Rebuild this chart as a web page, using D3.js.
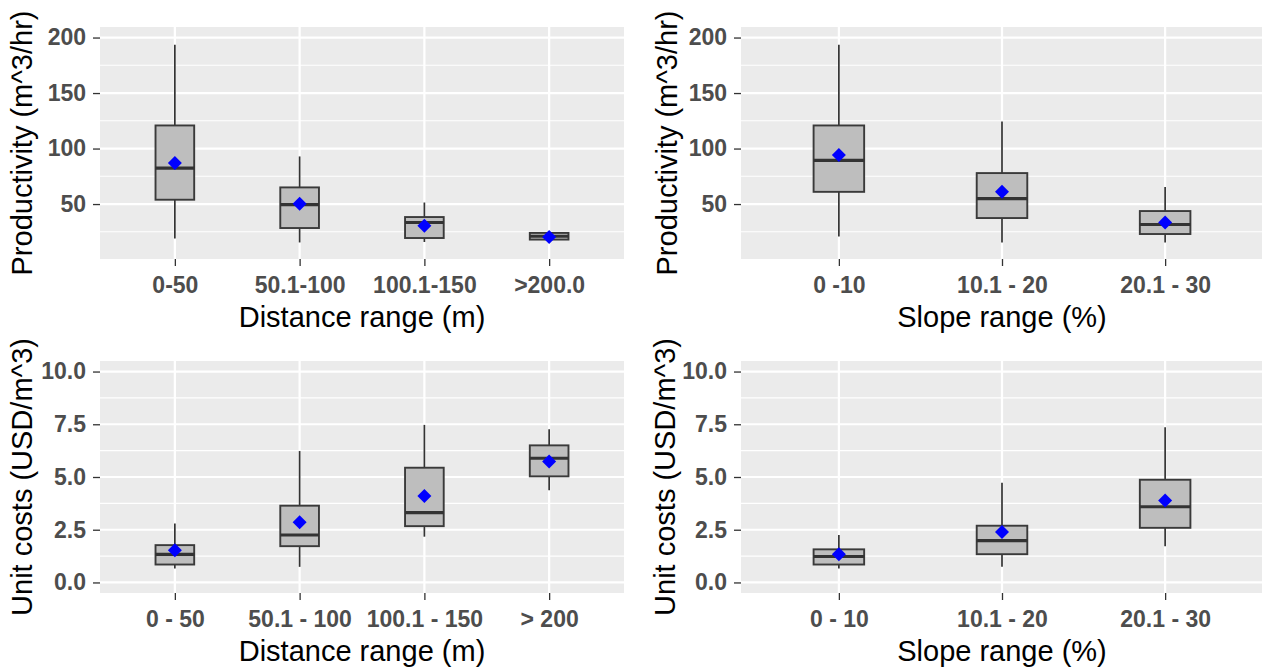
<!DOCTYPE html>
<html><head><meta charset="utf-8">
<script src="https://cdn.jsdelivr.net/npm/d3@7"></script>
<style>
html,body{margin:0;padding:0;background:#fff;}
svg{display:block;font-family:"Liberation Sans",Arial,sans-serif;}
</style></head>
<body>
<svg id="chart" width="1262" height="670"></svg>
<script>
// ---------- data ----------
const distCatsTop = ["0-50", "50.1-100", "100.1-150", ">200.0"];
const slopeCatsTop = ["0 -10", "10.1 - 20", "20.1 - 30"];
const distCatsBottom = ["0 - 50", "50.1 - 100", "100.1 - 150", "> 200"];
const slopeCatsBottom = ["0 - 10", "10.1 - 20", "20.1 - 30"];

// Productivity by distance
const prodDistMin  = [19.0, 15.4, 15.8, 17.0];
const prodDistQ1   = [53.9, 28.4, 19.4, 18.0];
const prodDistMed  = [82.4, 49.5, 33.4, 21.0];
const prodDistQ3   = [120.8, 65.0, 38.3, 24.0];
const prodDistMax  = [193.4, 92.9, 51.4, 24.8];
const prodDistMean = [86.9, 50.3, 30.5, 20.3];

// Productivity by slope
const prodSlopeMin  = [20.8, 15.4, 15.4];
const prodSlopeQ1   = [61.0, 37.4, 23.0];
const prodSlopeMed  = [89.3, 54.8, 31.6];
const prodSlopeQ3   = [120.8, 77.9, 43.7];
const prodSlopeMax  = [193.4, 124.4, 65.3];
const prodSlopeMean = [94.1, 61.0, 33.4];

// Unit costs by distance
const costDistMin  = [0.66, 0.74, 2.17, 4.37];
const costDistQ1   = [0.85, 1.72, 2.67, 5.03];
const costDistMed  = [1.33, 2.25, 3.31, 5.89];
const costDistQ3   = [1.77, 3.64, 5.44, 6.50];
const costDistMax  = [2.80, 6.23, 7.47, 7.26];
const costDistMean = [1.53, 2.85, 4.10, 5.73];

// Unit costs by slope
const costSlopeMin  = [0.66, 0.74, 1.72];
const costSlopeQ1   = [0.85, 1.34, 2.59];
const costSlopeMed  = [1.23, 1.98, 3.59];
const costSlopeQ3   = [1.57, 2.69, 4.87];
const costSlopeMax  = [2.25, 4.73, 7.36];
const costSlopeMean = [1.34, 2.39, 3.89];

// axis ticks
const prodTicks = [50, 100, 150, 200];
const prodTickLabels = ["50", "100", "150", "200"];
const prodMinor = [25, 75, 125, 175];
const costTicks = [0, 2.5, 5, 7.5, 10];
const costTickLabels = ["0.0", "2.5", "5.0", "7.5", "10.0"];
const costMinor = [1.25, 3.75, 6.25, 8.75];

const prodTitle = "Productivity (m^3/hr)";
const costTitle = "Unit costs (USD/m^3)";
const distTitle = "Distance range (m)";
const slopeTitle = "Slope range (%)";

// ---------- drawing ----------
const svg = d3.select("#chart");
const TICK_FONT = 23, TITLE_FONT = 29;

function drawPanel(p) {
  const g = svg.append("g");
  const x = d3.scalePoint().domain(p.cats).range([p.left, p.right]).padding(0.6);
  const y = d3.scaleLinear().domain(p.yDomain).range([p.bottom, p.top]);
  const step = x.step();
  const bw = step * 0.31;

  g.append("rect").attr("x", p.left).attr("y", p.top)
    .attr("width", p.right - p.left).attr("height", p.bottom - p.top)
    .attr("fill", "#EBEBEB");

  g.selectAll(".minor").data(p.minor).join("line")
    .attr("x1", p.left).attr("x2", p.right)
    .attr("y1", d => y(d)).attr("y2", d => y(d))
    .attr("stroke", "#fff").attr("stroke-width", 1.1);
  g.selectAll(".major").data(p.ticks).join("line")
    .attr("x1", p.left).attr("x2", p.right)
    .attr("y1", d => y(d)).attr("y2", d => y(d))
    .attr("stroke", "#fff").attr("stroke-width", 2.2);
  g.selectAll(".vgrid").data(p.cats).join("line")
    .attr("x1", d => x(d)).attr("x2", d => x(d))
    .attr("y1", p.top).attr("y2", p.bottom)
    .attr("stroke", "#fff").attr("stroke-width", 2.2);

  const rows = p.cats.map((c, i) => ({c, min: p.min[i], q1: p.q1[i], med: p.med[i], q3: p.q3[i], max: p.max[i], mean: p.mean[i]}));

  g.selectAll(".wh").data(rows).join("line")
    .attr("x1", d => x(d.c)).attr("x2", d => x(d.c))
    .attr("y1", d => y(d.min)).attr("y2", d => y(d.max))
    .attr("stroke", "#333").attr("stroke-width", 1.7);
  g.selectAll(".box").data(rows).join("rect")
    .attr("x", d => x(d.c) - bw / 2).attr("width", bw)
    .attr("y", d => y(d.q3)).attr("height", d => y(d.q1) - y(d.q3))
    .attr("fill", "#BEBEBE").attr("stroke", "#3a3a3a").attr("stroke-width", 1.9);
  g.selectAll(".med").data(rows).join("line")
    .attr("x1", d => x(d.c) - bw / 2).attr("x2", d => x(d.c) + bw / 2)
    .attr("y1", d => y(d.med)).attr("y2", d => y(d.med))
    .attr("stroke", "#333").attr("stroke-width", 3.2);
  const r = 7;
  g.selectAll(".mean").data(rows).join("path")
    .attr("d", `M0,${-r}L${r},0L0,${r}L${-r},0Z`)
    .attr("transform", d => `translate(${x(d.c)},${y(d.mean)})`)
    .attr("fill", "#0000FF");

  // axes
  const ya = g.append("g").attr("transform", `translate(${p.left},0)`)
    .call(d3.axisLeft(y).tickValues(p.ticks).tickFormat((d, i) => p.tickLabels[i]).tickSize(7).tickPadding(7));
  const xa = g.append("g").attr("transform", `translate(0,${p.bottom})`)
    .call(d3.axisBottom(x).tickSize(7).tickPadding(11));
  [ya, xa].forEach(a => {
    a.select(".domain").remove();
    a.selectAll(".tick line").attr("stroke", "#333").attr("stroke-width", 1.3);
    a.selectAll(".tick text").attr("fill", "#4D4D4D")
      .style("font-size", TICK_FONT + "px").style("font-weight", "bold")
      .style("font-family", "'Liberation Sans', Arial, sans-serif");
  });

  g.append("text").attr("x", (p.left + p.right) / 2).attr("y", p.bottom + 68)
    .attr("text-anchor", "middle").attr("fill", "#000")
    .style("font-size", TITLE_FONT + "px").text(p.xTitle);
  g.append("text")
    .attr("transform", `translate(${p.yTitleX},${(p.top + p.bottom) / 2}) rotate(-90)`)
    .attr("text-anchor", "middle").attr("fill", "#000")
    .style("font-size", TITLE_FONT + "px").text(p.yTitle);
}

drawPanel({left: 100, right: 624, top: 27, bottom: 259, yDomain: [0.5, 209.5],
  cats: distCatsTop, min: prodDistMin, q1: prodDistQ1, med: prodDistMed, q3: prodDistQ3, max: prodDistMax, mean: prodDistMean,
  ticks: prodTicks, tickLabels: prodTickLabels, minor: prodMinor, xTitle: distTitle, yTitle: prodTitle, yTitleX: 32});
drawPanel({left: 741, right: 1263, top: 27, bottom: 259, yDomain: [0.5, 209.5],
  cats: slopeCatsTop, min: prodSlopeMin, q1: prodSlopeQ1, med: prodSlopeMed, q3: prodSlopeQ3, max: prodSlopeMax, mean: prodSlopeMean,
  ticks: prodTicks, tickLabels: prodTickLabels, minor: prodMinor, xTitle: slopeTitle, yTitle: prodTitle, yTitleX: 677});
drawPanel({left: 100, right: 624, top: 361, bottom: 593, yDomain: [-0.5, 10.5],
  cats: distCatsBottom, min: costDistMin, q1: costDistQ1, med: costDistMed, q3: costDistQ3, max: costDistMax, mean: costDistMean,
  ticks: costTicks, tickLabels: costTickLabels, minor: costMinor, xTitle: distTitle, yTitle: costTitle, yTitleX: 32});
drawPanel({left: 741, right: 1263, top: 361, bottom: 593, yDomain: [-0.5, 10.5],
  cats: slopeCatsBottom, min: costSlopeMin, q1: costSlopeQ1, med: costSlopeMed, q3: costSlopeQ3, max: costSlopeMax, mean: costSlopeMean,
  ticks: costTicks, tickLabels: costTickLabels, minor: costMinor, xTitle: slopeTitle, yTitle: costTitle, yTitleX: 675});
</script>
</body></html>
